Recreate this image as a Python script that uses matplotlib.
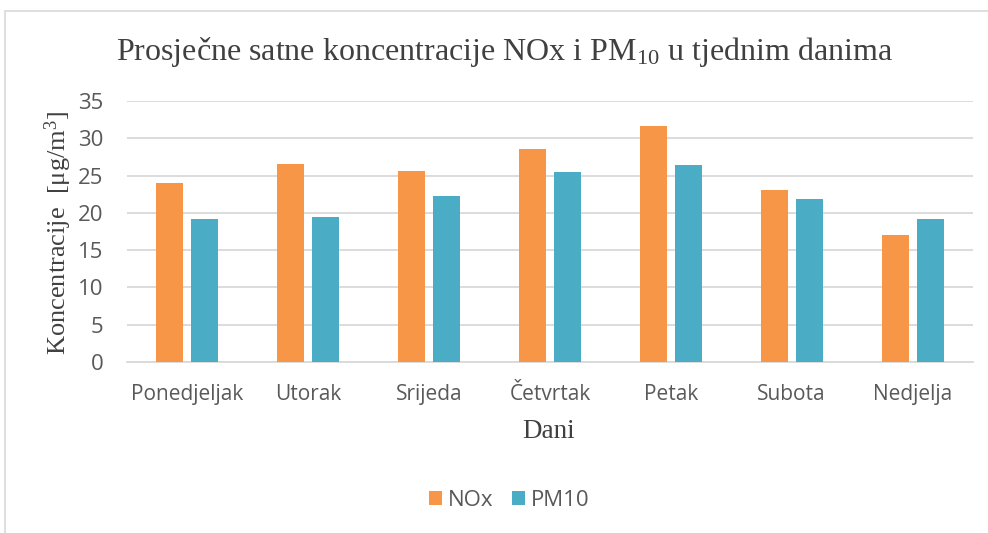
import numpy as np
import matplotlib
matplotlib.use('Agg')
import matplotlib.pyplot as plt
from matplotlib.patches import Rectangle

# podaci ocitani s grafa
dani = ['Ponedjeljak', 'Utorak', 'Srijeda', 'Četvrtak', 'Petak', 'Subota', 'Nedjelja']
nox = [24.0, 26.6, 25.6, 28.6, 31.7, 23.1, 17.0]
pm10 = [19.2, 19.4, 22.2, 25.5, 26.4, 21.9, 19.2]
y_ticks = [0, 5, 10, 15, 20, 25, 30, 35]

plt.rcParams['mathtext.fontset'] = 'custom'
plt.rcParams['mathtext.rm'] = 'Liberation Serif'
plt.rcParams['mathtext.it'] = 'Liberation Serif:italic'

W, H = 988, 533
fig = plt.figure(figsize=(W / 100, H / 100), dpi=100)
# okvir oko grafa
fig.patches.append(Rectangle((5 / W, -0.1), 1.2, 1 - 11 / H + 0.1,
                             transform=fig.transFigure, fill=False,
                             edgecolor='#d9d9d9', linewidth=1.2))

ax = fig.add_axes([127 / W, 1 - 362 / H, (973 - 127) / W, (362 - 101) / H])
x = np.arange(len(dani))
w = 0.223
ax.bar(x - 0.145, nox, w, color='#F79646', label='NOx', zorder=3)
ax.bar(x + 0.145, pm10, w, color='#4BACC6', label='PM10', zorder=3)

ax.set_xlim(-0.5, len(dani) - 0.5)
ax.set_ylim(0, 35)
ax.set_yticks(y_ticks)
ax.set_xticks(x)
ax.set_xticklabels(dani)
ax.grid(axis='y', color='#d9d9d9', linewidth=1.3, zorder=0)
for s in ['top', 'right', 'left']:
    ax.spines[s].set_visible(False)
ax.spines['bottom'].set_color('#d9d9d9')
ax.spines['bottom'].set_linewidth(1.3)
ax.tick_params(axis='both', length=0, labelcolor='#595959')
ax.tick_params(axis='x', pad=15.5, labelsize=15)
ax.tick_params(axis='y', pad=17, labelsize=16)
for lab in ax.get_xticklabels() + ax.get_yticklabels():
    lab.set_family('Open Sans')

# naslovi osi kao slobodan tekst (pozicije kao u Excelu)
fig.text(549 / W, 1 - 431 / H, 'Dani', family='Liberation Serif', fontsize=19.5,
         color='#404040', ha='center', va='center')
fig.text(58 / W, 1 - 233 / H, 'Koncentracije  [μg/m$^3$]', family='Liberation Serif',
         fontsize=19, color='#404040', ha='center', va='center', rotation=90)
fig.text(504 / W, 1 - 52 / H, 'Prosječne satne koncentracije NOx i PM$_{10}$ u tjednim danima',
         family='Liberation Serif', fontsize=23, color='#404040', ha='center', va='center')

leg = fig.legend(loc='center', bbox_to_anchor=(509 / W, 1 - 500 / H), ncol=2, frameon=False,
                 prop={'family': 'Open Sans', 'size': 16}, handlelength=0.6, handleheight=0.6,
                 columnspacing=0.85, handletextpad=0.25)
for t in leg.get_texts():
    t.set_color('#595959')

fig.savefig('out.png', dpi=100)
